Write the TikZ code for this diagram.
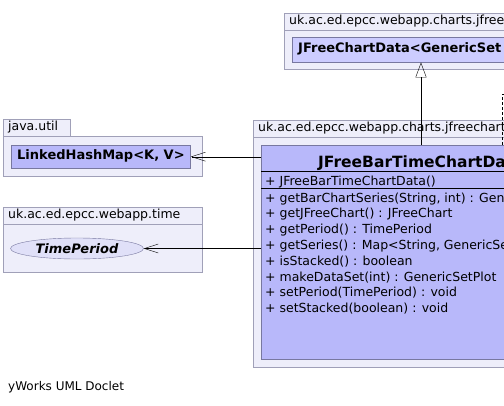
\documentclass[tikz,border=0pt]{standalone}
\usepackage{fontspec}
\setmainfont{DejaVu Sans}
\usetikzlibrary{arrows.meta,shapes.geometric}

\definecolor{pkgfill}{RGB}{238,238,250}
\definecolor{pkgline}{RGB}{160,160,184}
\definecolor{classfill}{RGB}{184,184,250}
\definecolor{superfill}{RGB}{204,204,255}
\definecolor{classline}{RGB}{120,120,160}
\definecolor{ifacefill}{RGB}{224,224,248}

\begin{document}
\begin{tikzpicture}[
    x=1pt, y=-1pt,
    pkgtab/.style={rectangle, draw=pkgline, fill=pkgfill, anchor=south west, inner xsep=5pt, inner ysep=0pt, minimum height=17pt, text height=9pt, text depth=3pt, align=left, font=\fontsize{12.5}{14}\selectfont},
    pkgbody/.style={rectangle, draw=pkgline, fill=pkgfill, anchor=north west, inner sep=0pt},
    classbox/.style={rectangle, draw=classline, fill=classfill, anchor=north west, inner xsep=6pt, inner ysep=0pt, text height=9.5pt, text depth=3pt, font=\bfseries\fontsize{13}{15}\selectfont},
    member/.style={anchor=base west, inner sep=0pt, font=\fontsize{12.5}{14}\selectfont},
    assoc/.style={-{Straight Barb[length=14pt, width=9pt]}, thin},
    extends/.style={-{Triangle[open, length=15pt, width=11pt]}, thin}
]
    \useasboundingbox (0,0) rectangle (504,405);
    \clip (0,0) rectangle (504,405);

    % Packages
    \node[pkgbody, minimum width=300pt, minimum height=39pt] (pkgcharts) at (284,30) {};
    \node[pkgtab] (pkgchartstab) at (pkgcharts.north west) {uk.ac.ed.epcc.webapp.charts.jfreechart};
    \node[pkgbody, minimum width=300pt, minimum height=230pt] (pkgjfree) at (253,137) {};
    \node[pkgtab] (pkgjfreetab) at (pkgjfree.north west) {uk.ac.ed.epcc.webapp.charts.jfreechart};
    \node[pkgbody, minimum width=199pt, minimum height=40pt] (pkgutil) at (3,136) {};
    \node[pkgtab, text width=57pt] (pkgutiltab) at (pkgutil.north west) {java.util};
    \node[pkgbody, minimum width=199pt, minimum height=48pt] (pkgtime) at (3,224) {};
    \node[pkgtab, text width=189pt] (pkgtimetab) at (pkgtime.north west) {uk.ac.ed.epcc.webapp.time};

    % Classes
    \node[classbox, fill=superfill, minimum height=25pt, minimum width=260pt, text width=248pt, align=left] (chartdata) at (292,37) {JFreeChartData<GenericSet};
    \node[classbox, minimum height=23pt] (hashmap) at (11,145) {LinkedHashMap<K, V>};
    \node[ellipse, draw=classline, fill=ifacefill, minimum width=133pt, minimum height=21pt, inner sep=0pt, font=\bfseries\itshape\fontsize{13}{15}\selectfont] (timeperiod) at (77,248.5) {TimePeriod};
    \node[classbox, minimum width=320pt, minimum height=214pt] (barchart) at (261,145) {};
    \node[anchor=base west, inner sep=0pt, font=\bfseries\fontsize{15.5}{18}\selectfont] (barcharttitle) at (318,167) {JFreeBarTimeChartData};
    \draw ([yshift=-26pt]barchart.north west) -- ([yshift=-26pt]barchart.north east);
    \draw ([yshift=-43pt]barchart.north west) -- ([yshift=-43pt]barchart.north east);
    \node[member] (ctor) at (265,185) {+ JFreeBarTimeChartData()};
    \foreach \m [count=\i from 0] in {{getBarChartSeries(String, int) : GenericSetPlot}, {getJFreeChart() : JFreeChart}, {getPeriod() : TimePeriod}, {getSeries() : Map<String, GenericSetPlot>}, {isStacked() : boolean}, {makeDataSet(int) : GenericSetPlot}, {setPeriod(TimePeriod) : void}, {setStacked(boolean) : void}}
        \node[member] (method\i) at (265,202+15.8*\i) {+ \m};

    % Connectors
    \coordinate (iface) at (520,94);
    \draw[assoc] (barchart.west |- hashmap.east) -- (hashmap.east);
    \draw[assoc] (barchart.west |- timeperiod.east) -- (timeperiod.east);
    \draw[extends] ([xshift=160pt]barchart.north west) -- ([xshift=160pt]barchart.north west |- chartdata.south);
    \draw[dash pattern=on 3pt off 2pt] ([xshift=241pt]barchart.north west) |- (iface);

    \node[anchor=base west, inner sep=0pt, font=\fontsize{12}{14}\selectfont] (doclet) at (8,390) {yWorks UML Doclet};
\end{tikzpicture}
\end{document}
